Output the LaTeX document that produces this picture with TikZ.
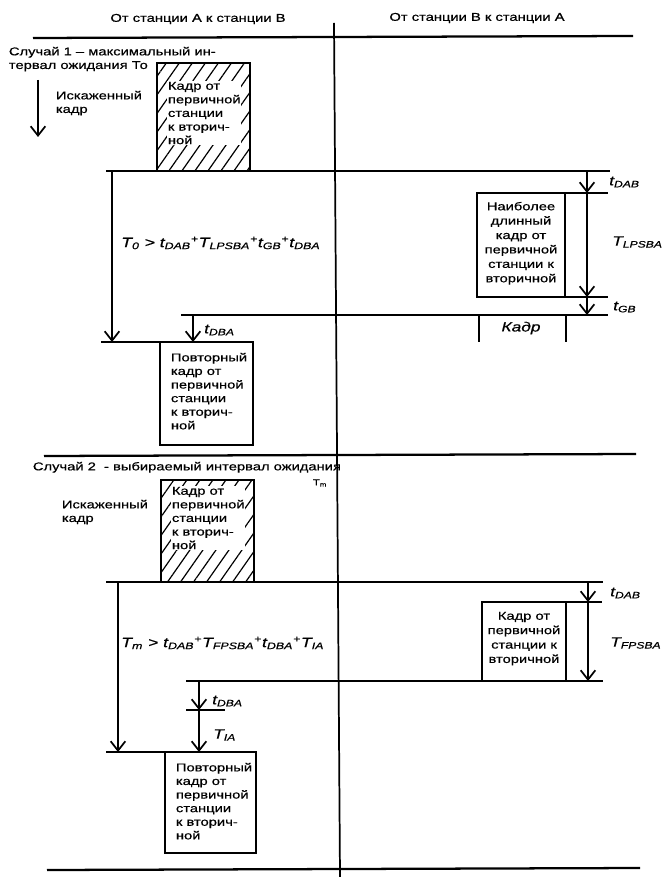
\documentclass[tikz,border=0pt]{standalone}
\usepackage{fontspec}
\setmainfont{Liberation Sans}[FakeStretch=1.3,FakeBold=0.6]
\usetikzlibrary{arrows.meta,patterns.meta}

\begin{document}
\begin{tikzpicture}[x=0.75pt,y=-0.75pt,
tline/.style={line width=1.3pt},
sepline/.style={line width=1.7pt},
tarr/.style={line width=1.3pt,-{Straight Barb[length=7pt,width=11pt,line width=1.3pt]}},
hatch/.style={line width=1.3pt,pattern={Lines[angle=55,distance=8pt,line width=0.9pt]}},
txt/.style={font=\fontsize{8.5}{10.2}\selectfont,inner sep=0.5pt,align=left},
ctxt/.style={font=\fontsize{8.5}{10.8}\selectfont,inner sep=0.5pt,align=center},
lbl/.style={font=\fontsize{10}{12}\selectfont\itshape,inner sep=0pt,anchor=west},
frm/.style={font=\fontsize{10.2}{12}\selectfont\itshape,inner sep=0pt,anchor=west}]

\useasboundingbox (0,0) rectangle (665,877);

\node[txt,anchor=center] (hdrAB) at (198,19) {От станции А к станции В};
\node[txt,anchor=center] (hdrBA) at (477,18) {От станции В к станции А};

\coordinate (midT) at (334,23);
\coordinate (midB) at (340,877);
\draw [tline](midT)--(midB);

\coordinate (sepA1) at (33,38);
\coordinate (sepA2) at (633,36);
\coordinate (sepB1) at (44,456);
\coordinate (sepB2) at (636,454);
\coordinate (sepC1) at (47,870);
\coordinate (sepC2) at (640,868);
\draw [sepline](sepA1)--(sepA2);
\draw [sepline](sepB1)--(sepB2);
\draw [sepline](sepC1)--(sepC2);

\node[txt,anchor=north west] (caseA) at (8,46) {Случай 1 -- максимальный ин-\\тервал ожидания То};
\coordinate (errA1) at (38,80);
\coordinate (errA2) at (38,137);
\draw [tarr](errA1)--(errA2);
\node[txt,anchor=north west] (errA) at (55,90) {Искаженный\\кадр};

\draw [hatch](157,63) rectangle (250,171);
\node[txt,fill=white,anchor=north west] (frmA) at (167,81) {Кадр от\\первичной\\станции\\к вторич-\\ной};

\coordinate (lA1) at (106,171);
\coordinate (lA2) at (610,171);
\draw [tline](lA1)--(lA2);

\coordinate (toA1) at (112,171);
\coordinate (toA2) at (112,342);
\draw [tarr](toA1)--(toA2);
\node[frm] (ineqA) at (121,243) {T\textsubscript{0} > t\textsubscript{DAB}\textsuperscript{+}T\textsubscript{LPSBA}\textsuperscript{+}t\textsubscript{GB}\textsuperscript{+}t\textsubscript{DBA}};

\coordinate (dabA1) at (587,171);
\coordinate (dabA2) at (587,193);
\coordinate (lpsA) at (587,297);
\coordinate (gbA) at (587,315);
\draw [tarr](dabA1)--(dabA2);
\draw [tarr](dabA2)--(lpsA);
\draw [tarr](lpsA)--(gbA);
\node[lbl] (tdabA) at (609,182) {t\textsubscript{DAB}};
\node[lbl] (tlps) at (612,242) {T\textsubscript{LPSBA}};
\node[lbl] (tgb) at (613,307) {t\textsubscript{GB}};

\draw [tline](477,193) rectangle (565,297);
\draw [tline](565,193)--(608,193);
\draw [tline](565,297)--(608,297);
\node[ctxt,anchor=north] (longA) at (521,201) {Наиболее\\длинный\\кадр от\\первичной\\станции к\\вторичной};

\coordinate (lB1) at (181,315);
\coordinate (lB2) at (608,315);
\draw [tline](lB1)--(lB2);
\draw [tline](479,315)--(479,342);
\draw [tline](566,315)--(566,342);
\node[lbl,anchor=center] (kadr) at (521,328) {Кадр};

\coordinate (dbaA1) at (193,315);
\coordinate (dbaA2) at (193,342);
\draw [tarr](dbaA1)--(dbaA2);
\node[lbl] (tdbaA) at (204,330) {t\textsubscript{DBA}};

\coordinate (lC1) at (101,342);
\coordinate (lC2) at (253,342);
\draw [tline](lC1)--(lC2);
\draw [tline](160,342) rectangle (253,445);
\node[txt,anchor=north west] (repA) at (170,352) {Повторный\\кадр от\\первичной\\станции\\к вторич-\\ной};

\node[txt,anchor=north west] (caseB) at (32,461) {Случай 2 \ - выбираемый интервал ожидания};
\node[txt,anchor=center,font=\fontsize{6.5}{7}\selectfont] (tmB) at (320,483) {T\textsubscript{m}};
\node[txt,anchor=north west] (errB) at (61,499) {Искаженный\\кадр};

\draw [hatch](161,480) rectangle (254,582);
\node[txt,fill=white,anchor=north west] (frmB) at (171,486) {Кадр от\\первичной\\станции\\к вторич-\\ной};

\coordinate (lD1) at (106,582);
\coordinate (lD2) at (603,582);
\draw [tline](lD1)--(lD2);

\coordinate (tmD1) at (118,582);
\coordinate (tmD2) at (118,752);
\draw [tarr](tmD1)--(tmD2);
\node[frm] (ineqB) at (121,643) {T\textsubscript{m} > t\textsubscript{DAB}\textsuperscript{+}T\textsubscript{FPSBA}\textsuperscript{+}t\textsubscript{DBA}\textsuperscript{+}T\textsubscript{IA}};

\coordinate (dabB1) at (588,582);
\coordinate (dabB2) at (588,602);
\coordinate (fpsB) at (588,681);
\draw [tarr](dabB1)--(dabB2);
\draw [tarr](dabB2)--(fpsB);
\node[lbl] (tdabB) at (610,593) {t\textsubscript{DAB}};
\node[lbl] (tfps) at (610,643) {T\textsubscript{FPSBA}};

\draw [tline](482,602) rectangle (566,681);
\draw [tline](566,602)--(602,602);
\draw [tline](566,681)--(603,681);
\node[ctxt,anchor=north] (frmE) at (524,611) {Кадр от\\первичной\\станции к\\вторичной};

\coordinate (lE1) at (186,681);
\coordinate (lE2) at (603,681);
\draw [tline](lE1)--(lE2);

\coordinate (dbaB1) at (199,681);
\coordinate (dbaB2) at (199,710);
\coordinate (iaB) at (199,752);
\draw [tarr](dbaB1)--(dbaB2);
\draw [tarr](dbaB2)--(iaB);
\draw [tline](186,710)--(225,710);
\node[lbl] (tdbaB) at (212,701) {t\textsubscript{DBA}};
\node[lbl] (tia) at (213,735) {T\textsubscript{IA}};

\coordinate (lF1) at (106,752);
\coordinate (lF2) at (256,752);
\draw [tline](lF1)--(lF2);
\draw [tline](165,752) rectangle (256,853);
\node[txt,anchor=north west] (repB) at (175,762) {Повторный\\кадр от\\первичной\\станции\\к вторич-\\ной};
\end{tikzpicture}
\end{document}
